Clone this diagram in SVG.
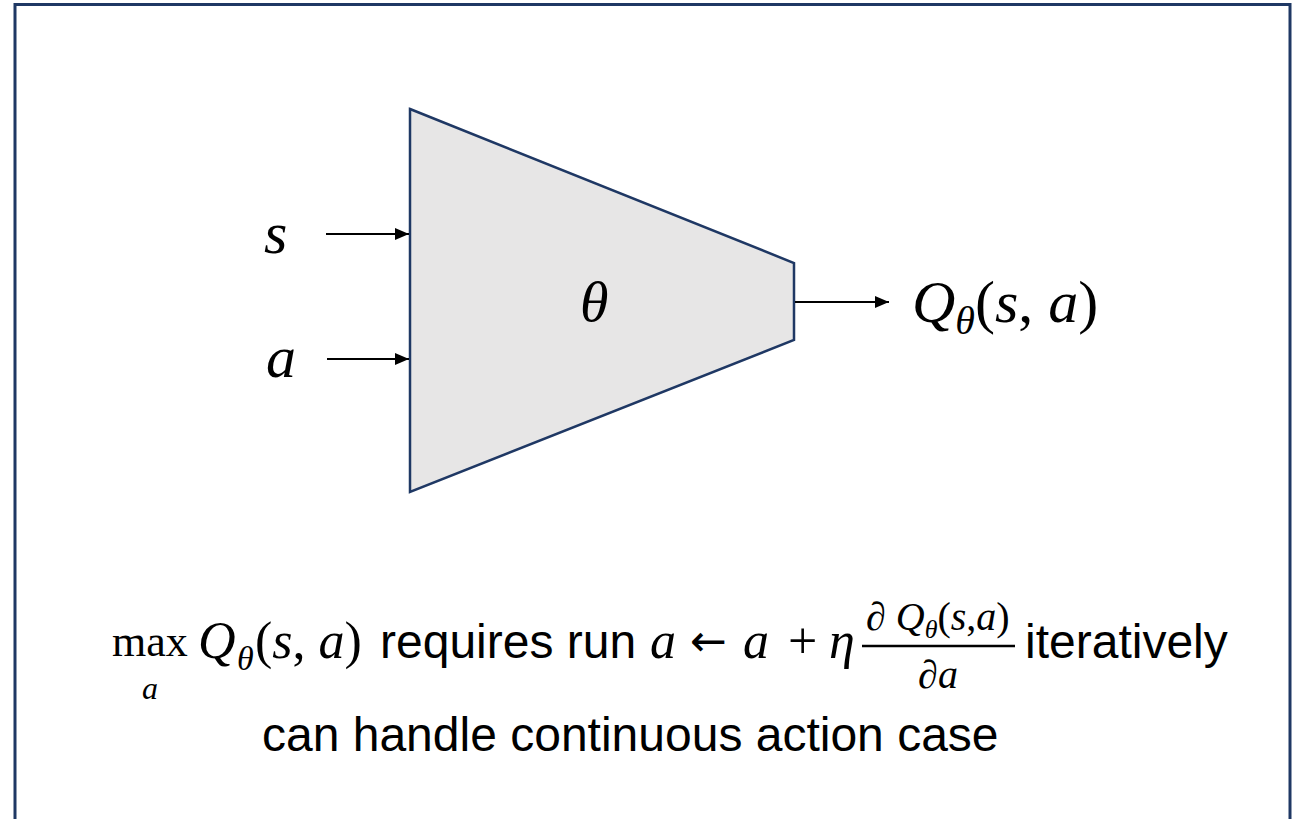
<svg xmlns="http://www.w3.org/2000/svg" width="1296" height="819" viewBox="0 0 1296 819">
<style>
.m{font-family:"Liberation Serif","DejaVu Serif",serif;fill:#000}
.i{font-style:italic}
.t{font-family:"Liberation Sans",Arial,sans-serif;fill:#000}
.ln{stroke:#000;stroke-width:2;fill:none}
</style>
<defs>
<marker id="ah" markerWidth="14" markerHeight="12" refX="14" refY="6" orient="auto" markerUnits="userSpaceOnUse">
<path d="M0,0 L14,6 L0,12 Z" fill="#000"/>
</marker>
</defs>
<rect x="0" y="0" width="1296" height="819" fill="#fff"/>
<rect x="15" y="4.5" width="1275" height="900" fill="#fff" stroke="#1f3864" stroke-width="3"/>
<g id="network">
<polygon points="410,109 794,263 794,340 410,492" fill="#e7e6e6" stroke="#1f3864" stroke-width="2.5"/>
<text class="m i" x="580" y="321" font-size="58">θ</text>
</g>
<g id="input-s"><text class="m i" x="264" y="253" font-size="60">s</text></g>
<g id="input-a"><text class="m i" x="266" y="377" font-size="60">a</text></g>
<g id="output"><text class="m" x="912" y="322" font-size="60"><tspan class="i">Q</tspan><tspan class="i" font-size="40" dy="12">θ</tspan><tspan dy="-12">(</tspan><tspan class="i">s</tspan>, <tspan class="i">a</tspan>)</text></g>
<g id="connectors">
<line class="ln" x1="326" y1="234" x2="409" y2="234" marker-end="url(#ah)"/>
<line class="ln" x1="327" y1="359" x2="409" y2="359" marker-end="url(#ah)"/>
<line class="ln" x1="795" y1="302" x2="889" y2="302" marker-end="url(#ah)"/>
</g>
<g id="caption">
<text class="m" x="112" y="656" font-size="44">max</text>
<text class="m i" x="150" y="699" font-size="32" text-anchor="middle">a</text>
<text class="m" x="198" y="658" font-size="52"><tspan class="i">Q</tspan><tspan class="i" font-size="34" x="237" dy="12">θ</tspan><tspan x="255" dy="-12">(</tspan><tspan class="i">s</tspan>, <tspan class="i">a</tspan>)</text>
<text class="t" x="380" y="658" font-size="48">requires run</text>
<text class="m i" x="650" y="658" font-size="52">a</text>
<text x="690" y="656" font-size="44" font-family="DejaVu Sans, sans-serif">←</text>
<text class="m i" x="743" y="658" font-size="52">a</text>
<text class="m" x="788" y="658" font-size="52">+</text>
<text class="m i" x="829" y="658" font-size="52">η</text>
<text class="m" x="866" y="630" font-size="40"><tspan class="i">∂</tspan> <tspan class="i">Q</tspan><tspan class="i" font-size="26" dy="8">θ</tspan><tspan dy="-8">(</tspan><tspan class="i">s</tspan>,<tspan class="i">a</tspan>)</text>
<line x1="862" y1="646" x2="1015" y2="646" stroke="#000" stroke-width="2.5"/>
<text class="m i" x="938" y="688" font-size="40" text-anchor="middle">∂a</text>
<text class="t" x="1025" y="658" font-size="48">iteratively</text>
<text class="t" x="262" y="751" font-size="48">can handle continuous action case</text>
</g>
</svg>
